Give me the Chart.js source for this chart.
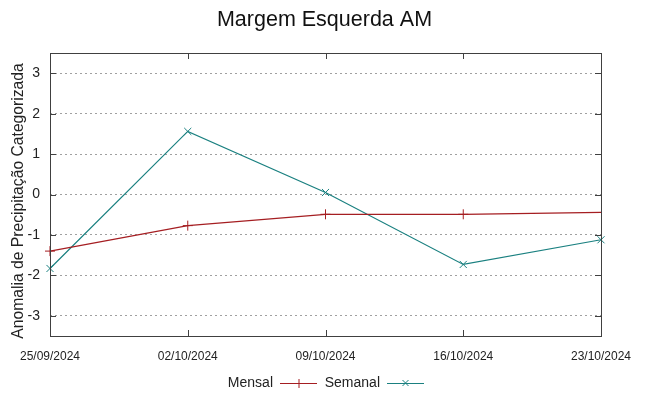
<!DOCTYPE html>
<html>
<head>
<meta charset="utf-8">
<script src="https://cdn.jsdelivr.net/npm/chart.js@4.4.0/dist/chart.umd.min.js"></script>
<style>
  html, body { margin: 0; padding: 0; background: #fff; }
  #wrap { width: 649px; height: 396px; position: relative; }
</style>
</head>
<body>
<div id="wrap"><canvas id="myChart" width="649" height="396"></canvas></div>
<script>
const dates = ["25/09/2024", "02/10/2024", "09/10/2024", "16/10/2024", "23/10/2024"];
const mensal = [-1.40, -0.77, -0.49, -0.49, -0.44];
const semanal = [-1.83, 1.56, 0.05, -1.73, -1.12];
const yTicks = [-3, -2, -1, 0, 1, 2, 3];

const redColor = "#a51e22";
const tealColor = "#1a8080";
const font = "'Liberation Sans', Arial, sans-serif";

// title, y label, border box, inward tick marks and the gnuplot-style key
const framePlugin = {
  id: "frame",
  afterDatasetsDraw(chart) {
    const ctx = chart.ctx;
    const a = chart.chartArea;
    const x = chart.scales.x;
    const y = chart.scales.y;
    ctx.save();

    ctx.fillStyle = "#111";
    ctx.textAlign = "center";
    ctx.textBaseline = "middle";
    ctx.font = "21.5px " + font;
    ctx.fillText("Margem Esquerda AM", chart.width / 2, 20);

    ctx.save();
    ctx.translate(19, 201);
    ctx.rotate(-Math.PI / 2);
    ctx.font = "15.7px " + font;
    ctx.fillStyle = "#222";
    ctx.fillText("Anomalia de Precipitação Categorizada", 0, 0);
    ctx.restore();

    ctx.strokeStyle = "#404040";
    ctx.lineWidth = 1;
    ctx.strokeRect(a.left + 0.5, a.top + 0.5, a.right - a.left, a.bottom - a.top);
    ctx.beginPath();
    yTicks.forEach(v => {
      const py = Math.round(y.getPixelForValue(v)) + 0.5;
      ctx.moveTo(a.left, py);
      ctx.lineTo(a.left + 6, py);
      ctx.moveTo(a.right, py);
      ctx.lineTo(a.right - 6, py);
    });
    dates.forEach((d, i) => {
      const px = Math.round(x.getPixelForValue(i)) + 0.5;
      ctx.moveTo(px, a.bottom);
      ctx.lineTo(px, a.bottom - 6);
      ctx.moveTo(px, a.top);
      ctx.lineTo(px, a.top + 6);
    });
    ctx.stroke();

    // key
    const ky = 383;
    ctx.font = "14px " + font;
    ctx.textAlign = "right";
    const items = [
      { label: "Mensal", color: redColor, style: "+", x: 273 },
      { label: "Semanal", color: tealColor, style: "x", x: 380 }
    ];
    items.forEach(it => {
      ctx.fillStyle = "#222";
      ctx.fillText(it.label, it.x, ky);
      const x0 = it.x + 7, x1 = it.x + 44, xm = (x0 + x1) / 2;
      ctx.strokeStyle = it.color;
      ctx.beginPath();
      ctx.moveTo(x0, ky + 0.5);
      ctx.lineTo(x1, ky + 0.5);
      if (it.style === "+") {
        ctx.moveTo(xm + 0.5, ky - 4);
        ctx.lineTo(xm + 0.5, ky + 5);
      } else {
        ctx.moveTo(xm - 3, ky - 3);
        ctx.lineTo(xm + 3, ky + 3);
        ctx.moveTo(xm + 3, ky - 3);
        ctx.lineTo(xm - 3, ky + 3);
      }
      ctx.stroke();
    });
    ctx.restore();
  }
};

const ctx = document.getElementById("myChart").getContext("2d");

new Chart(ctx, {
  type: "line",
  data: {
    labels: dates,
    datasets: [
      {
        label: "Mensal",
        data: mensal,
        borderColor: redColor,
        backgroundColor: redColor,
        borderWidth: 1.2,
        pointStyle: "cross",
        pointRadius: [5, 5, 5, 5, 0],
        pointBorderWidth: 1,
        tension: 0,
        clip: false
      },
      {
        label: "Semanal",
        data: semanal,
        borderColor: tealColor,
        backgroundColor: tealColor,
        borderWidth: 1.2,
        pointStyle: "crossRot",
        pointRadius: 5,
        pointBorderWidth: 1,
        tension: 0,
        clip: false
      }
    ]
  },
  options: {
    responsive: false,
    animation: false,
    layout: { padding: { left: 0, right: 48, top: 53, bottom: 0 } },
    plugins: {
      legend: { display: false },
      tooltip: { enabled: false },
      title: { display: false }
    },
    scales: {
      x: {
        type: "category",
        offset: false,
        grid: { display: false, drawTicks: false },
        border: { display: false },
        ticks: {
          color: "#222",
          font: { family: font, size: 12 },
          padding: 13,
          maxRotation: 0,
          autoSkip: false
        },
        afterFit: s => { s.height = 60; }
      },
      y: {
        min: -3.5,
        max: 3.5,
        afterBuildTicks: s => { s.ticks = yTicks.map(v => ({ value: v })); },
        grid: {
          color: "#a0a0a0",
          lineWidth: 1,
          drawTicks: false
        },
        border: { display: false, dash: [2, 3] },
        ticks: {
          color: "#222",
          font: { family: font, size: 14 },
          padding: 10
        },
        afterFit: s => { s.width = 50; }
      }
    }
  },
  plugins: [framePlugin]
});
</script>
</body>
</html>
